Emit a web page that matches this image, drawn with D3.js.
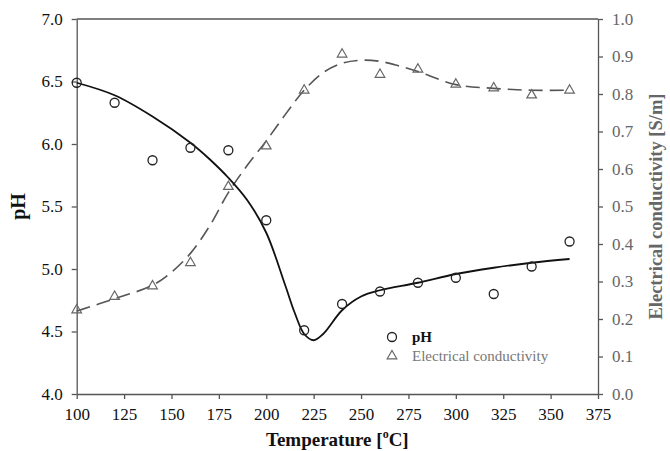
<!DOCTYPE html>
<html lang="en">
<head>
<meta charset="UTF-8">
<title>pH and electrical conductivity vs temperature</title>
<script src="https://d3js.org/d3.v7.min.js"></script>
<style>
  body { margin: 0; background: #fff; }
  svg text { font-family: "Liberation Serif", "DejaVu Serif", serif; }
  .axis path, .axis line { stroke: #555; stroke-width: 1.3px; }
  .axis text { font-size: 17px; }
</style>
</head>
<body>
<svg width="670" height="451"></svg>
<script>
// measured points
const temps = [100, 120, 140, 160, 180, 200, 220, 240, 260, 280, 300, 320, 340, 360];
const phValues = [6.49, 6.33, 5.87, 5.97, 5.95, 5.39, 4.51, 4.72, 4.82, 4.89, 4.93, 4.80, 5.02, 5.22];
const ecValues = [0.224, 0.26, 0.288, 0.35, 0.553, 0.661, 0.81, 0.906, 0.852, 0.866, 0.826, 0.816, 0.797, 0.81];

// fitted curves
const phFitT = [100, 120, 140, 160, 170, 180, 190, 200, 210, 215, 220, 225, 230, 240, 250, 260, 280, 300, 320, 340, 360];
const phFit = [6.49, 6.39, 6.22, 6.01, 5.88, 5.73, 5.55, 5.29, 4.87, 4.65, 4.48, 4.43, 4.48, 4.67, 4.78, 4.83, 4.89, 4.96, 5.01, 5.05, 5.08];
const ecFitT = [100, 120, 140, 150, 160, 170, 180, 190, 200, 210, 220, 230, 240, 250, 260, 270, 280, 300, 320, 340, 360];
const ecFit = [0.221, 0.254, 0.29, 0.325, 0.375, 0.447, 0.537, 0.61, 0.675, 0.745, 0.81, 0.857, 0.882, 0.89, 0.887, 0.875, 0.86, 0.825, 0.815, 0.81, 0.81];

const xTicks = [100, 125, 150, 175, 200, 225, 250, 275, 300, 325, 350, 375];
const phTicks = [4.0, 4.5, 5.0, 5.5, 6.0, 6.5, 7.0];
const ecTicks = [0, 0.1, 0.2, 0.3, 0.4, 0.5, 0.6, 0.7, 0.8, 0.9, 1.0];

const svg = d3.select("svg");
const plotL = 76.7, plotR = 598, plotT = 19, plotB = 394;

const x = d3.scaleLinear().domain([100, 375]).range([plotL, plotR]);
const yPh = d3.scaleLinear().domain([4, 7]).range([plotB, plotT]);
const yEc = d3.scaleLinear().domain([0, 1]).range([plotB, plotT]);

// top frame line
svg.append("line")
  .attr("x1", plotL).attr("x2", plotR)
  .attr("y1", plotT).attr("y2", plotT)
  .attr("stroke", "#555").attr("stroke-width", 1.3);

svg.append("g").attr("class", "axis")
  .attr("transform", `translate(0,${plotB})`)
  .call(d3.axisBottom(x).tickValues(xTicks).tickSize(5).tickSizeOuter(0).tickPadding(9))
  .selectAll("text").attr("fill", "#111");

svg.append("g").attr("class", "axis")
  .attr("transform", `translate(${plotL},0)`)
  .call(d3.axisLeft(yPh).tickValues(phTicks).tickFormat(d3.format(".1f")).tickSize(5).tickSizeOuter(0).tickPadding(9))
  .selectAll("text").attr("fill", "#111");

svg.append("g").attr("class", "axis")
  .attr("transform", `translate(${plotR},0)`)
  .call(d3.axisRight(yEc).tickValues(ecTicks).tickFormat(d3.format(".1f")).tickSize(5).tickSizeOuter(0).tickPadding(9))
  .selectAll("text").attr("fill", "#666");

// axis titles
const xt = svg.append("text")
  .attr("x", (plotL + plotR) / 2).attr("y", 446)
  .attr("text-anchor", "middle")
  .attr("font-size", 19).attr("font-weight", "bold").attr("fill", "#111");
xt.append("tspan").text("Temperature [");
xt.append("tspan").attr("font-size", 12).attr("dy", -8).text("o");
xt.append("tspan").attr("dy", 8).text("C]");

svg.append("text")
  .attr("transform", `translate(25,${(plotT + plotB) / 2}) rotate(-90)`)
  .attr("text-anchor", "middle")
  .attr("font-size", 20).attr("font-weight", "bold").attr("fill", "#111")
  .text("pH");

svg.append("text")
  .attr("transform", `translate(662,${(plotT + plotB) / 2}) rotate(-90)`)
  .attr("text-anchor", "middle")
  .attr("font-size", 18.5).attr("font-weight", "bold").attr("fill", "#666")
  .text("Electrical conductivity [S/m]");

// fitted lines
const phLine = d3.line().x((d, i) => x(phFitT[i])).y(d => yPh(d)).curve(d3.curveCatmullRom.alpha(0.5));
const ecLine = d3.line().x((d, i) => x(ecFitT[i])).y(d => yEc(d)).curve(d3.curveCatmullRom.alpha(0.5));

svg.append("path").datum(ecFit)
  .attr("d", ecLine)
  .attr("fill", "none").attr("stroke", "#555").attr("stroke-width", 1.6)
  .attr("stroke-dasharray", "14,7");

svg.append("path").datum(phFit)
  .attr("d", phLine)
  .attr("fill", "none").attr("stroke", "#111").attr("stroke-width", 1.8);

// markers
const tri = d3.symbol().type(d3.symbolTriangle).size(40);

svg.append("g").selectAll("path")
  .data(ecValues)
  .join("path")
  .attr("d", tri)
  .attr("transform", (d, i) => `translate(${x(temps[i])},${yEc(d)})`)
  .attr("fill", "none").attr("stroke", "#666").attr("stroke-width", 1.2);

svg.append("g").selectAll("circle")
  .data(phValues)
  .join("circle")
  .attr("cx", (d, i) => x(temps[i]))
  .attr("cy", d => yPh(d))
  .attr("r", 4.5)
  .attr("fill", "none").attr("stroke", "#222").attr("stroke-width", 1.3);

// legend
const lg = svg.append("g").attr("transform", "translate(392,337)");
lg.append("circle").attr("cx", 0).attr("cy", 0).attr("r", 4.5)
  .attr("fill", "none").attr("stroke", "#222").attr("stroke-width", 1.3);
lg.append("text").attr("x", 20).attr("y", 5)
  .attr("font-size", 15).attr("font-weight", "bold").attr("fill", "#111").text("pH");
lg.append("path").attr("d", tri).attr("transform", "translate(0,19)")
  .attr("fill", "none").attr("stroke", "#666").attr("stroke-width", 1.2);
lg.append("text").attr("x", 20).attr("y", 24)
  .attr("font-size", 15).attr("fill", "#777").text("Electrical conductivity");
</script>
</body>
</html>
